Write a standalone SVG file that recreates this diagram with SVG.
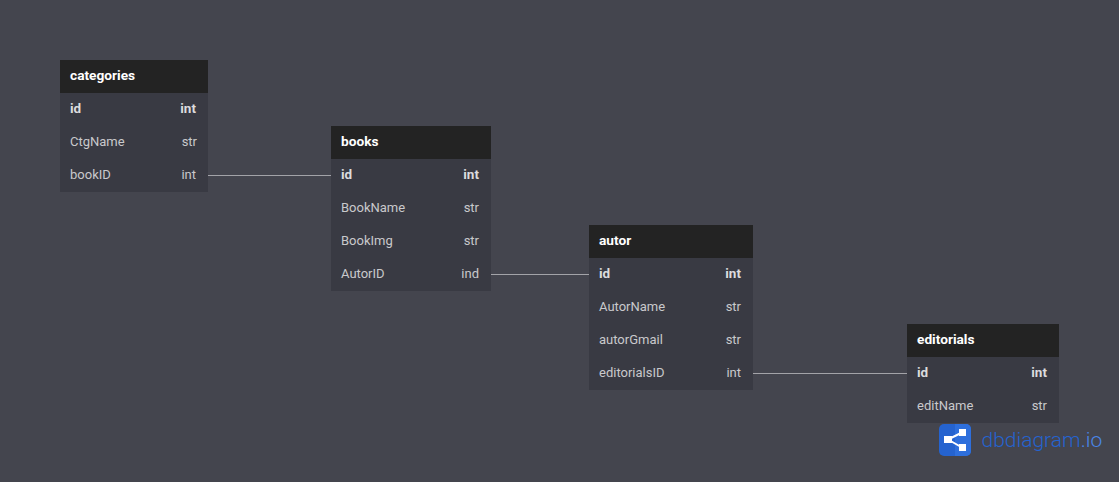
<svg xmlns="http://www.w3.org/2000/svg" width="1119" height="482" viewBox="0 0 1119 482">
<style>
text{font-family:Roboto,"Liberation Sans",sans-serif;font-size:13px}
.bd{fill:#393a43}
.hd{fill:#232323}
.t{fill:#fff;font-weight:700;font-size:13.7px}
.f{fill:#c9c9cc}
.k{fill:#dcdcde;font-weight:700;font-size:13.5px}
.r{text-anchor:end}
.c{stroke:#a3a3a8;stroke-width:1;fill:none}
</style>
<rect width="1119" height="482" fill="#44454e"/>
<g id="connectors">
<path class="c" d="M208 175.500H331"/>
<path class="c" d="M491 274.500H589"/>
<path class="c" d="M753 373.500H907"/>
</g>
<g id="categories">
<rect class="bd" x="60" y="60" width="148" height="132"/><rect class="hd" x="60" y="60" width="148" height="33"/>
<text class="t" x="70" y="80">categories</text>
<text class="k" x="70" y="113">id</text><text class="k r" x="196" y="113">int</text>
<text class="f" x="70" y="146">CtgName</text><text class="f r" x="197" y="146">str</text>
<text class="f" x="70" y="179">bookID</text><text class="f r" x="196" y="179">int</text>
</g>
<g id="books">
<rect class="bd" x="331" y="126" width="160" height="165"/><rect class="hd" x="331" y="126" width="160" height="33"/>
<text class="t" x="341" y="146">books</text>
<text class="k" x="341" y="179">id</text><text class="k r" x="479" y="179">int</text>
<text class="f" x="341" y="212">BookName</text><text class="f r" x="479" y="212">str</text>
<text class="f" x="341" y="245">BookImg</text><text class="f r" x="479" y="245">str</text>
<text class="f" x="341" y="278">AutorID</text><text class="f r" x="479" y="278">ind</text>
</g>
<g id="autor">
<rect class="bd" x="589" y="225" width="164" height="165"/><rect class="hd" x="589" y="225" width="164" height="33"/>
<text class="t" x="599" y="245">autor</text>
<text class="k" x="599" y="278">id</text><text class="k r" x="741" y="278">int</text>
<text class="f" x="599" y="311">AutorName</text><text class="f r" x="741" y="311">str</text>
<text class="f" x="599" y="344">autorGmail</text><text class="f r" x="741" y="344">str</text>
<text class="f" x="599" y="377">editorialsID</text><text class="f r" x="741" y="377">int</text>
</g>
<g id="editorials">
<rect class="bd" x="907" y="324" width="152" height="99"/><rect class="hd" x="907" y="324" width="152" height="33"/>
<text class="t" x="917" y="344">editorials</text>
<text class="k" x="917" y="377">id</text><text class="k r" x="1047" y="377">int</text>
<text class="f" x="917" y="410">editName</text><text class="f r" x="1047" y="410">str</text>
</g>
<g id="logo">
<rect x="939" y="424" width="32" height="32" rx="5" fill="#2563cf"/>
<path d="M955 424H966a5 5 0 0 1 5 5V451a5 5 0 0 1 -5 5H955Z" fill="#2e6fdc"/>
<path d="M948 439.500L962 432.500M948 439.500L962 447.500" stroke="#fff" stroke-width="2" fill="none"/>
<rect x="944" y="436" width="8" height="7" fill="#fff"/>
<rect x="959" y="429" width="7" height="7" fill="#fff"/>
<rect x="959" y="444" width="7" height="7" fill="#fff"/>
<text x="981.500" y="447" style="font-size:21px;font-weight:300" fill="#2563cf">dbdiagram<tspan fill="#4a86e8">.io</tspan></text>
</g>
</svg>
